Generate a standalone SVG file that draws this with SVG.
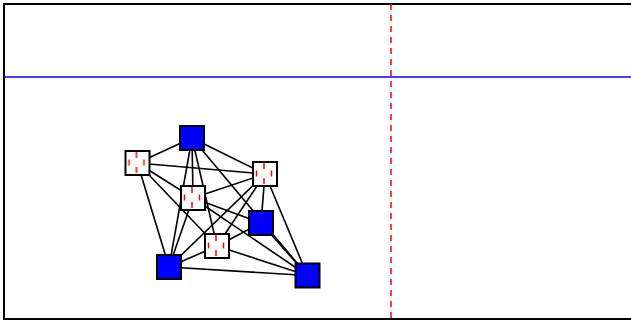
<svg xmlns="http://www.w3.org/2000/svg" width="631" height="322" viewBox="0 0 631 322">
<defs>
<pattern id="dash" patternUnits="userSpaceOnUse" x="0" y="0" width="15" height="15">
<line x1="11" y1="1" x2="11" y2="7" stroke="#ff0000" stroke-width="1.5"/>
<line x1="3.5" y1="8.5" x2="3.5" y2="14.5" stroke="#ff0000" stroke-width="1.5"/>
</pattern>
</defs>
<style>
.frame{fill:none;stroke:#000;stroke-width:2}
.lane{stroke:#0000ff;stroke-width:1.5;fill:none}
.div{stroke:#ff0000;stroke-width:1.5;stroke-dasharray:6,5;fill:none}
.e{stroke:#000;stroke-width:1.6;fill:none}
.blue{fill:#0000ff;stroke:#000;stroke-width:2}
.pat{fill:url(#dash);stroke:#000;stroke-width:2}
.bg{fill:#fff;stroke:none}
</style>
<rect x="4" y="4" width="640" height="315" class="frame"/>
<line x1="4" y1="77" x2="631" y2="77" class="lane"/>
<line x1="391" y1="4" x2="391" y2="319" class="div"/>
<g id="edges">
<line class="e" x1="192" y1="138" x2="137.5" y2="163"/>
<line class="e" x1="192" y1="138" x2="265" y2="174"/>
<line class="e" x1="192" y1="138" x2="193" y2="198"/>
<line class="e" x1="192" y1="138" x2="217" y2="246"/>
<line class="e" x1="192" y1="138" x2="169" y2="267"/>
<line class="e" x1="192" y1="138" x2="307.5" y2="275.5"/>
<line class="e" x1="137.5" y1="163" x2="265" y2="174"/>
<line class="e" x1="137.5" y1="163" x2="193" y2="198"/>
<line class="e" x1="137.5" y1="163" x2="217" y2="246"/>
<line class="e" x1="137.5" y1="163" x2="169" y2="267"/>
<line class="e" x1="265" y1="174" x2="193" y2="198"/>
<line class="e" x1="265" y1="174" x2="261" y2="223"/>
<line class="e" x1="265" y1="174" x2="307.5" y2="275.5"/>
<line class="e" x1="265" y1="174" x2="169" y2="267"/>
<line class="e" x1="265" y1="174" x2="217" y2="246"/>
<line class="e" x1="193" y1="198" x2="261" y2="223"/>
<line class="e" x1="193" y1="198" x2="169" y2="267"/>
<line class="e" x1="193" y1="198" x2="307.5" y2="275.5"/>
<line class="e" x1="261" y1="223" x2="307.5" y2="275.5"/>
<line class="e" x1="261" y1="223" x2="217" y2="246"/>
<line class="e" x1="217" y1="246" x2="169" y2="267"/>
<line class="e" x1="217" y1="246" x2="307.5" y2="275.5"/>
<line class="e" x1="169" y1="267" x2="307.5" y2="275.5"/>
</g>
<g id="n1" transform="translate(180,126)"><rect width="24" height="24" class="blue"/></g>
<g id="n2" transform="translate(125.5,151)"><rect width="24" height="24" class="bg"/><rect width="24" height="24" class="pat"/></g>
<g id="n3" transform="translate(253,162)"><rect width="24" height="24" class="bg"/><rect width="24" height="24" class="pat"/></g>
<g id="n4" transform="translate(181,186)"><rect width="24" height="24" class="bg"/><rect width="24" height="24" class="pat"/></g>
<g id="n5" transform="translate(249,211)"><rect width="24" height="24" class="blue"/></g>
<g id="n6" transform="translate(205,234)"><rect width="24" height="24" class="bg"/><rect width="24" height="24" class="pat"/></g>
<g id="n7" transform="translate(157,255)"><rect width="24" height="24" class="blue"/></g>
<g id="n8" transform="translate(295.5,263.5)"><rect width="24" height="24" class="blue"/></g>
</svg>
